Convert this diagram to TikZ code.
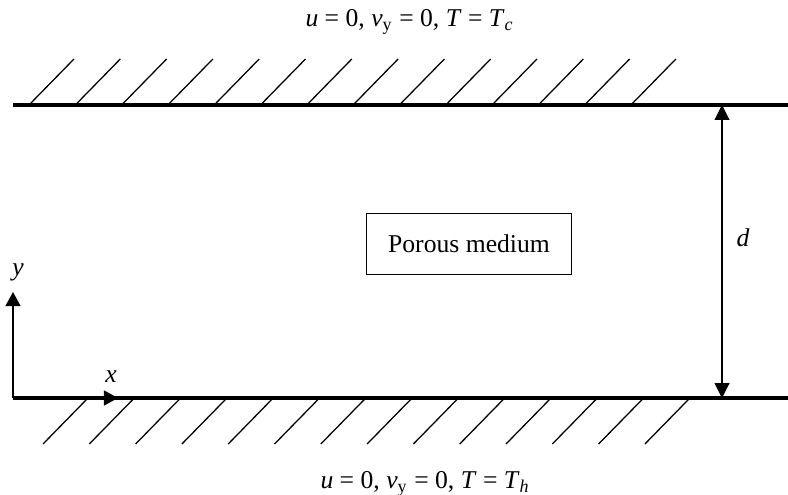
\documentclass[tikz,border=0pt]{standalone}
\usepackage{fontspec}
\setmainfont{Liberation Serif}
\usetikzlibrary{arrows.meta}

\begin{document}
\begin{tikzpicture}[x=0.39pt, y=-0.39pt,
      wall/.style={line width=1.2pt},
      hatch/.style={line width=0.5pt},
      axis/.style={line width=0.8pt, -{Triangle[length=5.5pt, width=5.8pt]}},
      gap/.style={line width=0.4pt, {Triangle[length=5.8pt, width=5.8pt]}-{Triangle[length=5.8pt, width=5.8pt]}},
      every node/.style={font=\fontsize{10}{12}\selectfont, inner sep=0pt}]
    \useasboundingbox (0,0) rectangle (788,494);
    % walls
    \coordinate (topL) at (13,105);
    \coordinate (topR) at (788,105);
    \coordinate (botL) at (13,398);
    \coordinate (botR) at (788,398);
    \draw[wall] (topL) -- (topR);
    \draw[wall] (botL) -- (botR);
    % hatching
    \foreach \k in {0,...,13} {
      \draw[hatch] (29+46.3*\k,105) -- (74+46.3*\k,59);
      \draw[hatch] (88+46.3*\k,398) -- (43+46.3*\k,444);
    }
    % boundary conditions
    \node[anchor=west] (cold) at (305,22) {\textit{u} = 0, \textit{v}\textsubscript{y} = 0, \textit{T} = \textit{T}\textsubscript{\textit{c}}};
    \node[anchor=west] (hot) at (320,484) {\textit{u} = 0, \textit{v}\textsubscript{y} = 0, \textit{T} = \textit{T}\textsubscript{\textit{h}}};
    % medium
    \node[draw, line width=0.5pt, minimum width=80pt, minimum height=24pt] (medium) at (469,244) {Porous medium};
    % channel height
    \coordinate (dtop) at (722,105);
    \coordinate (dbot) at (722,398);
    \draw[gap] (dbot) -- (dtop);
    \node (dlabel) at (743,238) {\textit{d}};
    % axes
    \coordinate (origin) at (13,398);
    \coordinate (yend) at (13,292);
    \coordinate (xend) at (118,398);
    \draw[axis] (origin) -- (yend);
    \draw[axis] (origin) -- (xend);
    \node (ylabel) at (18,272) {\textit{y}};
    \node (xlabel) at (111,377) {\textit{x}};
\end{tikzpicture}
\end{document}
